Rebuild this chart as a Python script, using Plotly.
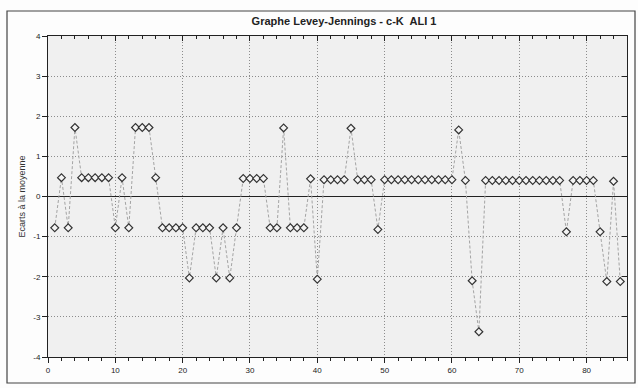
import plotly.graph_objects as go

# Data
sample_index = list(range(1, 86))
ecarts = [
    -0.78, 0.47, -0.78, 1.72, 0.47, 0.47, 0.47, 0.47, 0.47, -0.78,
    0.47, -0.78, 1.72, 1.72, 1.72, 0.47, -0.78, -0.78, -0.78, -0.78,
    -2.03, -0.78, -0.78, -0.78, -2.03, -0.78, -2.03, -0.78, 0.45, 0.45,
    0.45, 0.45, -0.78, -0.78, 1.71, -0.78, -0.78, -0.78, 0.44, -2.06,
    0.42, 0.42, 0.42, 0.42, 1.70, 0.42, 0.42, 0.42, -0.82, 0.42,
    0.42, 0.42, 0.42, 0.42, 0.42, 0.42, 0.42, 0.42, 0.42, 0.42,
    1.66, 0.40, -2.10, -3.37, 0.40, 0.40, 0.40, 0.40, 0.40, 0.40,
    0.40, 0.40, 0.40, 0.40, 0.40, 0.40, -0.88, 0.40, 0.40, 0.40,
    0.40, -0.88, -2.12, 0.38, -2.12,
]
x_ticks = [0, 10, 20, 30, 40, 50, 60, 70, 80]
y_ticks = [-4, -3, -2, -1, 0, 1, 2, 3, 4]
title_text = "Graphe Levey-Jennings - c-K  ALI 1"
y_title = "Ecarts à la moyenne"

W, H = 638, 388
L, R, T, B = 48, 627, 36, 357

fig = go.Figure()
fig.add_trace(go.Scatter(
    x=sample_index, y=ecarts, mode="lines+markers",
    line=dict(color="#a4a4a4", width=1, dash="3px,2px"),
    marker=dict(symbol="diamond", size=6, color="#f4f4f4",
                line=dict(color="#333333", width=1.2)),
    showlegend=False, hoverinfo="x+y",
))
# invisible trace to activate the top/right tick axes
fig.add_trace(go.Scatter(x=[None], y=[None], xaxis="x2", yaxis="y2",
                         showlegend=False, hoverinfo="skip"))

font_family = "Liberation Sans, Arial, sans-serif"
fig.update_layout(
    width=W, height=H,
    margin=dict(l=L, r=W - R, t=T, b=H - B),
    paper_bgcolor="#fdfdfd",
    plot_bgcolor="#f0f0f0",
    font=dict(family=font_family, size=8, color="#222"),
    title=dict(text="<b>" + title_text + "</b>", x=(344 - L) / (R - L), xref="paper",
               xanchor="center", y=1 - 21 / H, yanchor="middle",
               font=dict(size=11, color="#222", family=font_family)),
    xaxis=dict(range=[0, 86], tickvals=x_ticks, ticktext=[str(v) for v in x_ticks],
               showgrid=True, gridcolor="#8c8c8c", griddash="1px,2px", gridwidth=1,
               showline=True, linecolor="#222", linewidth=1, mirror=True,
               ticks="outside", ticklen=5, tickcolor="#222",
               minor=dict(dtick=2, tick0=0, ticks="outside", ticklen=3, tickcolor="#222", showgrid=False),
               zeroline=False, tickfont=dict(size=8)),
    yaxis=dict(range=[-4, 4], tickvals=y_ticks, ticktext=[str(v) for v in y_ticks],
               showgrid=True, gridcolor="#8c8c8c", griddash="1px,2px", gridwidth=1,
               showline=True, linecolor="#222", linewidth=1, mirror=True,
               ticks="outside", ticklen=5, tickcolor="#222",
               zeroline=True, zerolinecolor="#222", zerolinewidth=1.3,
               title=dict(text=y_title, font=dict(size=9, color="#333"), standoff=6),
               tickfont=dict(size=8)),
    xaxis2=dict(range=[0, 86], overlaying="x", side="top", showticklabels=False,
                tickvals=x_ticks, ticks="inside", ticklen=5, tickcolor="#222",
                minor=dict(dtick=2, tick0=0, ticks="inside", ticklen=3, tickcolor="#222"),
                showgrid=False, zeroline=False),
    yaxis2=dict(range=[-4, 4], overlaying="y", side="right", showticklabels=False,
                tickvals=y_ticks, ticks="inside", ticklen=5, tickcolor="#222",
                showgrid=False, zeroline=False),
    shapes=[dict(type="rect", xref="paper", yref="paper",
                 x0=(7 - L) / (R - L), x1=(635 - L) / (R - L),
                 y0=(B - 383) / (B - T), y1=(B - 11) / (B - T),
                 line=dict(color="#444", width=1.2), fillcolor="rgba(0,0,0,0)",
                 layer="below")],
)

fig.write_html("out.html")
